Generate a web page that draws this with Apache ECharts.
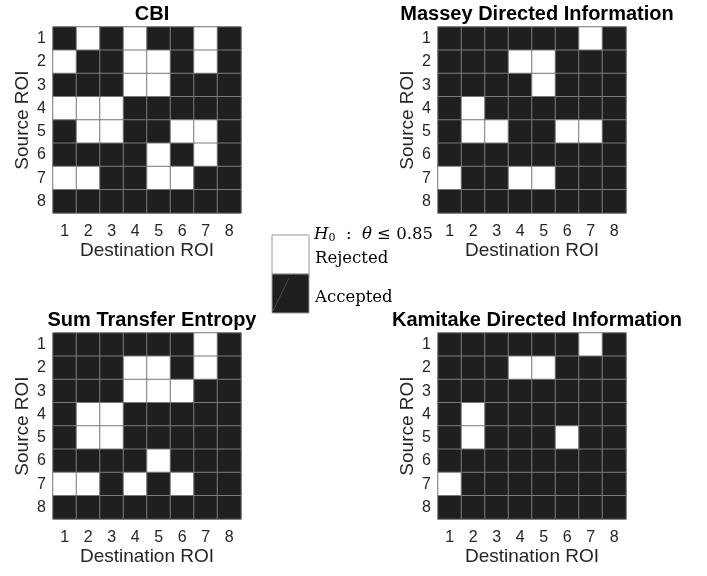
<!DOCTYPE html>
<html>
<head>
<meta charset="utf-8">
<script src="https://cdn.jsdelivr.net/npm/echarts@6/dist/echarts.min.js"></script>
<style>
  html, body { margin: 0; padding: 0; background: #fff; }
  #chart { width: 707px; height: 576px; }
</style>
</head>
<body>
<div id="chart"></div>
<script>
// ROI indices for both axes
const roiLabels = ['1', '2', '3', '4', '5', '6', '7', '8'];

// Hypothesis test outcome per (source row, destination column): 1 = rejected, 0 = accepted
const cbi = [
  [0, 1, 0, 1, 0, 0, 1, 0],
  [1, 0, 0, 1, 1, 0, 1, 0],
  [0, 0, 0, 1, 1, 0, 0, 0],
  [1, 1, 1, 0, 0, 0, 0, 0],
  [0, 1, 1, 0, 0, 1, 1, 0],
  [0, 0, 0, 0, 1, 0, 1, 0],
  [1, 1, 0, 0, 1, 1, 0, 0],
  [0, 0, 0, 0, 0, 0, 0, 0]
];
const massey = [
  [0, 0, 0, 0, 0, 0, 1, 0],
  [0, 0, 0, 1, 1, 0, 0, 0],
  [0, 0, 0, 0, 1, 0, 0, 0],
  [0, 1, 0, 0, 0, 0, 0, 0],
  [0, 1, 1, 0, 0, 1, 1, 0],
  [0, 0, 0, 0, 0, 0, 0, 0],
  [1, 0, 0, 1, 1, 0, 0, 0],
  [0, 0, 0, 0, 0, 0, 0, 0]
];
const sumTE = [
  [0, 0, 0, 0, 0, 0, 1, 0],
  [0, 0, 0, 1, 1, 0, 1, 0],
  [0, 0, 0, 1, 1, 1, 0, 0],
  [0, 1, 1, 0, 0, 0, 0, 0],
  [0, 1, 1, 0, 0, 0, 0, 0],
  [0, 0, 0, 0, 1, 0, 0, 0],
  [1, 1, 0, 1, 0, 1, 0, 0],
  [0, 0, 0, 0, 0, 0, 0, 0]
];
const kamitake = [
  [0, 0, 0, 0, 0, 0, 1, 0],
  [0, 0, 0, 1, 1, 0, 0, 0],
  [0, 0, 0, 0, 0, 0, 0, 0],
  [0, 1, 0, 0, 0, 0, 0, 0],
  [0, 1, 0, 0, 0, 1, 0, 0],
  [0, 0, 0, 0, 0, 0, 0, 0],
  [1, 0, 0, 0, 0, 0, 0, 0],
  [0, 0, 0, 0, 0, 0, 0, 0]
];

const panelTitles = ['CBI', 'Massey Directed Information', 'Sum Transfer Entropy', 'Kamitake Directed Information'];
const panelData = [cbi, massey, sumTE, kamitake];

const DARK = '#1f1f1f';
const GRIDLINE = '#7a7a7a';
const TEXT = '#262626';
const SANS = '"Liberation Sans", Arial, Helvetica, sans-serif';
const SERIF = '"DejaVu Serif", "Liberation Serif", serif';

const boxes = [
  { left: 53, top: 27 },
  { left: 438, top: 27 },
  { left: 53, top: 333 },
  { left: 438, top: 333 }
];
const W = 188, H = 186;

function toCells(mat) {
  const out = [];
  mat.forEach((row, r) => row.forEach((v, c) => out.push([c, r, v])));
  return out;
}

const innerTick = { show: true, inside: true, alignWithLabel: true, length: 3, lineStyle: { color: '#444', width: 1 } };

const grids = [], xAxes = [], topAxes = [], yAxes = [], series = [], titles = [];
boxes.forEach((b, i) => {
  grids.push({ left: b.left, top: b.top, width: W, height: H, show: true, borderColor: '#bdbdbd', borderWidth: 1, backgroundColor: 'transparent' });
  titles.push({
    text: panelTitles[i],
    left: b.left + W / 2,
    top: b.top - 28,
    textAlign: 'center',
    textStyle: { fontFamily: SANS, fontWeight: 'bold', fontSize: 20, color: '#000' }
  });
  xAxes.push({
    gridIndex: i, type: 'category', data: roiLabels, position: 'bottom',
    name: 'Destination ROI', nameLocation: 'middle', nameGap: 27,
    nameTextStyle: { fontFamily: SANS, fontSize: 19, color: TEXT },
    axisLine: { show: false }, axisTick: innerTick, splitLine: { show: false },
    axisLabel: { fontFamily: SANS, fontSize: 16, color: TEXT, margin: 11 }
  });
  // tick marks along the top edge of the box
  topAxes.push({
    gridIndex: i, type: 'category', data: roiLabels, position: 'top',
    axisLine: { show: false }, axisTick: innerTick, splitLine: { show: false },
    axisLabel: { show: false }
  });
  yAxes.push({
    gridIndex: i, type: 'category', data: roiLabels, inverse: true,
    name: 'Source ROI', nameLocation: 'middle', nameGap: 21,
    nameTextStyle: { fontFamily: SANS, fontSize: 19, color: TEXT },
    axisLine: { show: false }, axisTick: innerTick, splitLine: { show: false },
    axisLabel: { fontFamily: SANS, fontSize: 16, color: TEXT, margin: 7 }
  });
  series.push({
    type: 'heatmap', xAxisIndex: i, yAxisIndex: i,
    data: toCells(panelData[i]),
    itemStyle: { borderColor: GRIDLINE, borderWidth: 1 },
    emphasis: { disabled: true },
    z: 1,
    animation: false
  });
});

// Legend strip for the hypothesis test outcome
const legendX = 272, legendY = 235, legendW = 37, legendH = 78;
const graphics = [
  { type: 'rect', shape: { x: legendX, y: legendY, width: legendW, height: legendH / 2 },
    style: { fill: '#ffffff', stroke: '#9a9a9a', lineWidth: 1 } },
  { type: 'rect', shape: { x: legendX, y: legendY + legendH / 2, width: legendW, height: legendH / 2 },
    style: { fill: DARK, stroke: '#9a9a9a', lineWidth: 1 } },
  { type: 'line', shape: { x1: legendX + 1, y1: legendY + legendH - 2, x2: legendX + 17, y2: legendY + legendH / 2 + 4 },
    style: { stroke: '#6a6a6a', lineWidth: 0.6 } },
  { type: 'text', left: 314, top: 226,
    style: {
      text: '{i|H}{s|0}{n|  :  }{i|θ}{n| ≤ 0.85}',
      rich: {
        i: { fontFamily: SERIF, fontStyle: 'italic', fontSize: 16.5, fill: '#000' },
        s: { fontFamily: SERIF, fontSize: 11, fill: '#000', verticalAlign: 'bottom', padding: [7, 0, 0, 0] },
        n: { fontFamily: SERIF, fontSize: 16.5, fill: '#000' }
      }
    } },
  { type: 'text', left: 315, top: 250,
    style: { text: 'Rejected', fontFamily: SERIF, fontSize: 16.5, fill: '#000' } },
  { type: 'text', left: 315, top: 289,
    style: { text: 'Accepted', fontFamily: SERIF, fontSize: 16.5, fill: '#000' } }
];

const chart = echarts.init(document.getElementById('chart'), null, { renderer: 'canvas' });
chart.setOption({
  animation: false,
  backgroundColor: '#ffffff',
  title: titles,
  grid: grids,
  xAxis: xAxes.concat(topAxes),
  yAxis: yAxes,
  visualMap: {
    type: 'piecewise', show: false, seriesIndex: [0, 1, 2, 3], dimension: 2,
    pieces: [
      { value: 0, color: DARK },
      { value: 1, color: '#ffffff' }
    ]
  },
  series: series,
  graphic: graphics
});
</script>
</body>
</html>
